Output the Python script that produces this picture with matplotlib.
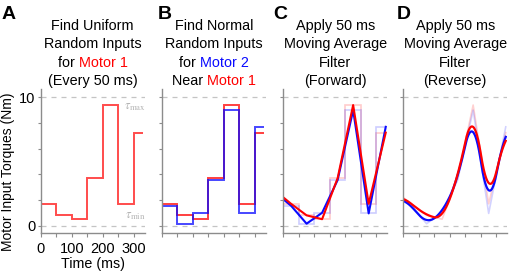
import numpy as np
import matplotlib
matplotlib.use("Agg")
import matplotlib.pyplot as plt
from matplotlib.offsetbox import TextArea, HPacker, VPacker, AnchoredOffsetbox

plt.rcParams["font.family"] = ["Liberation Sans", "DejaVu Sans"]
plt.rcParams["mathtext.fontset"] = "stix"

# random step inputs, one value every 50 ms
step_edges = [0, 50, 100, 150, 200, 250, 300, 330]
motor1 = [1.7, 0.8, 0.5, 3.7, 9.4, 1.7, 7.25]
motor2 = [1.55, 0.15, 1.0, 3.55, 9.0, 0.95, 7.7]

# forward 50 ms moving average (knots)
fwd_t = [0, 25, 75, 125, 175, 225, 275, 330]
fwd1 = [2.2, 1.7, 0.8, 0.5, 3.7, 9.4, 1.7, 7.25]
fwd2 = [2.05, 1.55, 0.15, 1.0, 3.55, 9.0, 0.95, 7.7]

tau_min, tau_max = 0, 10
xticks = [0, 50, 100, 150, 200, 250, 300]
xticklabels = ["0", "", "100", "", "200", "", "300"]
yticks = [0, 2, 4, 6, 8, 10]
yticklabels = ["0", "", "", "", "", "10"]

RED = "#ff0000"
BLUE = "#0a0aff"
GRAY = "#8c8c8c"
K = "black"

titles = [
    [[("Find Uniform", K)], [("Random Inputs", K)], [("for ", K), ("Motor 1", RED)], [("(Every 50 ms)", K)]],
    [[("Find Normal", K)], [("Random Inputs", K)], [("for ", K), ("Motor 2", BLUE)], [("Near ", K), ("Motor 1", RED)]],
    [[("Apply 50 ms", K)], [("Moving Average", K)], [("Filter", K)], [("(Forward)", K)]],
    [[("Apply 50 ms", K)], [("Moving Average", K)], [("Filter", K)], [("(Reverse)", K)]],
]
letters = ["A", "B", "C", "D"]
letter_x = [2, 158, 273, 397]


def moving_avg(t, y, width=50):
    # centred moving average of the (piecewise linear) forward-filtered trace
    tt = np.arange(t[0], t[-1] + 1)
    yy = np.interp(tt, t, y)
    h = width // 2
    padded = np.pad(yy, h, mode="edge")
    return tt, np.convolve(padded, np.ones(2 * h + 1) / (2 * h + 1), mode="valid")


def title_block(ax, rows):
    lines = []
    for parts in rows:
        areas = [TextArea(s, textprops=dict(color=c, fontsize=10.4)) for s, c in parts]
        lines.append(HPacker(children=areas, align="baseline", pad=0, sep=0))
    box = VPacker(children=lines, align="center", pad=0, sep=3.25)
    ab = AnchoredOffsetbox(loc="lower center", child=box, pad=0, borderpad=0, frameon=False,
                           bbox_to_anchor=(0.5, 1.005), bbox_transform=ax.transAxes)
    ax.add_artist(ab)


fig = plt.figure(figsize=(5.1, 2.74), dpi=100)
lefts = [40.7, 161.7, 283.3, 403.3]
axes = [fig.add_axes([l / 510, (274 - 233.3) / 274, 104 / 510, 144.3 / 274]) for l in lefts]

for i, ax in enumerate(axes):
    ax.set_xlim(0, 335)
    ax.set_ylim(-0.6, 10.65)
    for s in ["top", "right"]:
        ax.spines[s].set_visible(False)
    for s in ["left", "bottom"]:
        ax.spines[s].set_color(GRAY)
        ax.spines[s].set_linewidth(1.0)
    ax.tick_params(colors=GRAY, labelcolor="black", length=3, width=0.8, labelsize=10.5)
    ax.tick_params(axis="x", pad=3)
    ax.tick_params(axis="y", length=2.5, pad=1.5)
    ax.set_xticks(xticks)
    ax.set_yticks(yticks)
    if i == 0:
        ax.set_xticklabels(xticklabels)
        ax.set_yticklabels(yticklabels)
    else:
        ax.set_xticklabels([])
        ax.set_yticklabels([])
    for lvl in (tau_min, tau_max):
        ax.axhline(lvl, color="#c4c4c4", lw=0.9, ls=(0, (4, 4)), zorder=0)
    title_block(ax, titles[i])
    fig.text(letter_x[i] / 510, 1 - 6 / 274, letters[i],
             fontsize=14, fontweight="bold", va="top", ha="left")

axA, axB, axC, axD = axes

# A: uniform random inputs for motor 1
axA.stairs(motor1, step_edges, color=RED, lw=1.4, alpha=0.7, baseline=None)
axA.text(338, 9.75, r"$\tau_{\rm max}$", color="#b4b4b4", fontsize=9, ha="right", va="top")
axA.text(338, 0.25, r"$\tau_{\rm min}$", color="#b4b4b4", fontsize=9, ha="right", va="bottom")
axA.set_xlabel("Time (ms)", fontsize=10.3, labelpad=1)
axA.set_ylabel("Motor Input Torques (Nm)", fontsize=10)
axA.yaxis.set_label_coords(-0.25, 0.43)

# B: motor 2 near motor 1
axB.stairs(motor1, step_edges, color=RED, lw=1.4, alpha=0.75, baseline=None)
axB.stairs(motor2, step_edges, color=BLUE, lw=1.4, alpha=0.75, baseline=None)

# C: forward moving average
axC.stairs(motor1, step_edges, color=RED, lw=1.2, alpha=0.2, baseline=None)
axC.stairs(motor2, step_edges, color=BLUE, lw=1.2, alpha=0.2, baseline=None)
axC.plot(fwd_t, fwd2, color=BLUE, lw=1.5)
axC.plot(fwd_t, fwd1, color=RED, lw=1.5)

# D: reverse moving average
axD.plot(fwd_t, fwd1, color=RED, lw=1.2, alpha=0.18)
axD.plot(fwd_t, fwd2, color=BLUE, lw=1.2, alpha=0.18)
t1, rev1 = moving_avg(fwd_t, fwd1)
t2, rev2 = moving_avg(fwd_t, fwd2)
axD.plot(t2, rev2, color=BLUE, lw=1.6)
axD.plot(t1, rev1, color=RED, lw=1.6)

fig.savefig("out.png", dpi=100)
